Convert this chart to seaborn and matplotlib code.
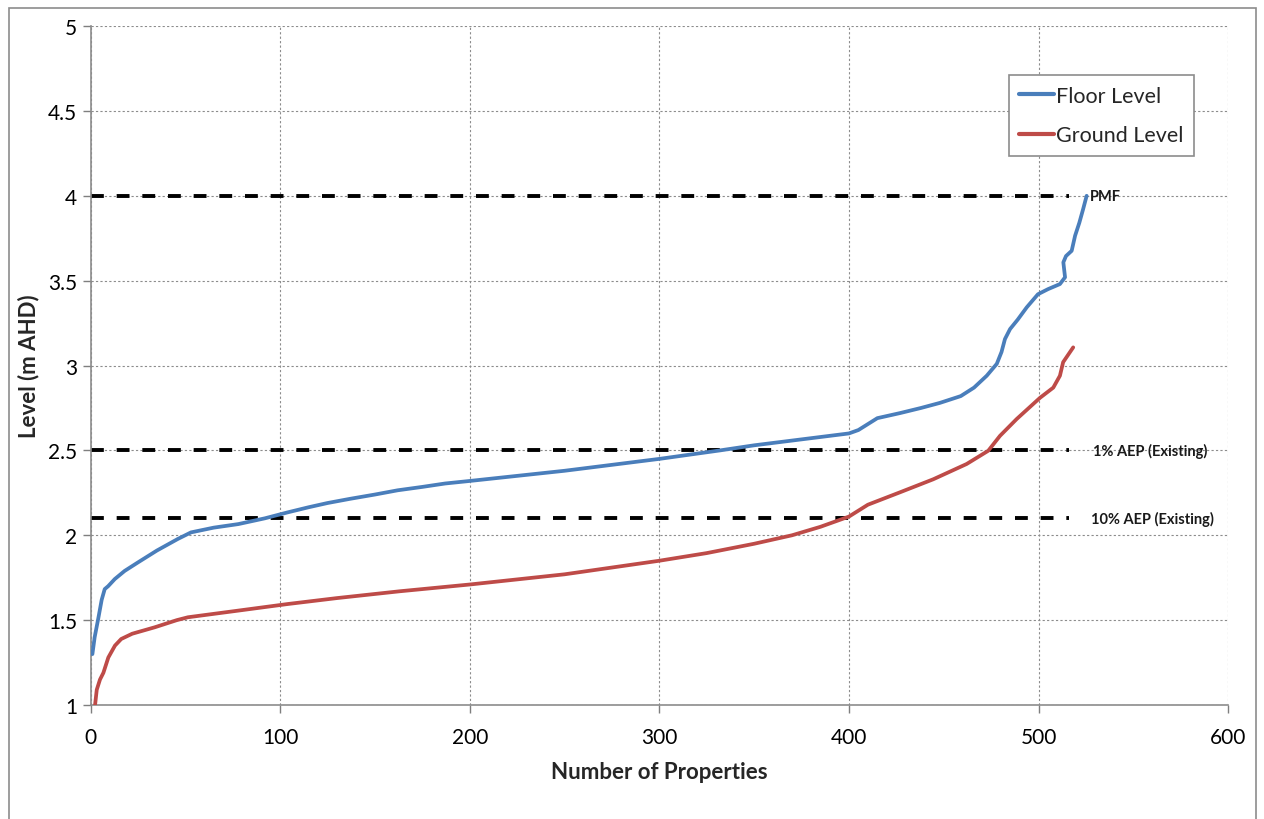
import pandas as pd
import seaborn as sns
import matplotlib.pyplot as plt
from matplotlib.patches import Rectangle
from matplotlib.ticker import FuncFormatter

# Values
floor_x = [1, 2.2, 4.1, 5.9, 7.5, 9.3, 12.8, 18, 25, 35, 46, 53, 65, 78, 92, 104,
           115, 125, 137, 150, 162, 175, 187, 200, 225, 250, 275, 300, 332, 350, 375,
           400, 405, 410, 415,
           427, 438, 448, 459, 466, 472.7, 478, 480.5, 482.3, 485, 489, 493.8,
           499.7, 505, 511.3, 514, 513.1, 514.5, 517.5, 519.3, 521.5, 523.5, 525.4]
floor_y = [1.30, 1.40, 1.51, 1.62, 1.683, 1.70, 1.742, 1.79, 1.84, 1.91, 1.978, 2.017, 2.045, 2.066, 2.10, 2.135,
           2.165, 2.19, 2.215, 2.24, 2.265, 2.285, 2.305, 2.32, 2.35, 2.38, 2.415, 2.45, 2.50, 2.53, 2.565,
           2.60, 2.62, 2.655, 2.69,
           2.72, 2.75, 2.78, 2.82, 2.87, 2.94, 3.01, 3.08, 3.156, 3.215, 3.27, 3.343,
           3.42, 3.45, 3.48, 3.52, 3.608, 3.645, 3.676, 3.765, 3.84, 3.92, 4.00]

ground_x = [2.4, 3.3, 5, 6.8, 9.4, 12.9, 16.2, 22, 33.9, 45.5, 51.4, 77.8, 104, 130, 163,
            200, 225, 250, 275, 300, 325, 350, 370, 385, 400, 410, 426.9, 444.5, 462.1, 473.5, 479.7,
            488.5, 500.8, 507.8, 511.3, 513, 518.3]
ground_y = [1.00, 1.09, 1.15, 1.19, 1.28, 1.35, 1.389, 1.42, 1.458, 1.50, 1.517, 1.556, 1.595, 1.63, 1.67,
            1.71, 1.74, 1.77, 1.81, 1.85, 1.895, 1.95, 2.00, 2.05, 2.11, 2.18, 2.253, 2.33, 2.42, 2.498, 2.586,
            2.685, 2.81, 2.87, 2.94, 3.02, 3.107]

ref_levels = [4.0, 2.5, 2.1]
ref_labels = ['PMF', '1% AEP (Existing)', '10% AEP (Existing)']
ref_label_x = [527, 528.8, 527.7]
ref_x_end = 516

series_names = ['Floor Level', 'Ground Level']
series_colors = ['#4A7EBB', '#BE4B48']

df = pd.concat([
    pd.DataFrame({'x': floor_x, 'y': floor_y, 'series': series_names[0]}),
    pd.DataFrame({'x': ground_x, 'y': ground_y, 'series': series_names[1]}),
], ignore_index=True)

sns.set_style('white')
plt.rcParams['font.family'] = ['Lato', 'DejaVu Sans']

fig = plt.figure(figsize=(12.64, 8.2), dpi=100)
ax = fig.add_axes([0.0716, 0.139, 0.9, 0.828])

# Excel style grid
ax.grid(True, color='#8c8c8c', linestyle=(0, (2, 2)), linewidth=0.8)
ax.set_axisbelow(True)

# reference levels (dashed black)
for lvl, lab, lx in zip(ref_levels, ref_labels, ref_label_x):
    ax.plot([0, ref_x_end], [lvl, lvl], color='black', linewidth=2.8,
            linestyle=(0, (3.3, 3.3)), zorder=2)
    ax.text(lx, lvl, lab, fontsize=10.5, fontweight='bold', color='#1a1a1a',
            va='center', ha='left')

sns.lineplot(data=df, x='x', y='y', hue='series', palette=series_colors,
             sort=False, estimator=None, units='series', linewidth=2.7, ax=ax, zorder=3)

ax.set_xlim(0, 600)
ax.set_ylim(1, 5)
ax.set_xticks(range(0, 601, 100))
ax.set_yticks([1, 1.5, 2, 2.5, 3, 3.5, 4, 4.5, 5])
ax.yaxis.set_major_formatter(FuncFormatter(lambda v, p: f'{v:g}'))
ax.tick_params(axis='both', labelsize=15, colors='#7f7f7f', labelcolor='black',
               length=6, width=1, direction='out', bottom=True, left=True)
ax.tick_params(axis='x', pad=10)

for side in ['top', 'right']:
    ax.spines[side].set_visible(False)
for side in ['left', 'bottom']:
    ax.spines[side].set_color('#8c8c8c')
    ax.spines[side].set_linewidth(1.2)

ax.set_xlabel('Number of Properties', fontsize=16, fontweight='bold', labelpad=10)
ax.set_ylabel('Level (m AHD)', fontsize=16, fontweight='bold', labelpad=6)

leg = ax.legend(loc='upper left', bbox_to_anchor=(0.807, 0.928), fontsize=15.5,
                frameon=True, fancybox=False, framealpha=1, edgecolor='#8c8c8c',
                handlelength=1.6, handletextpad=0.1, borderpad=0.5,
                labelspacing=0.9, borderaxespad=0)
leg.get_frame().set_linewidth(1.2)
for line in leg.get_lines():
    line.set_linewidth(3)

# outer chart border
fig.add_artist(Rectangle((0.0071, -0.01), 0.9866, 0.999, transform=fig.transFigure,
                         fill=False, edgecolor='#8c8c8c', linewidth=1.2))

fig.savefig('out.png', dpi=100)
